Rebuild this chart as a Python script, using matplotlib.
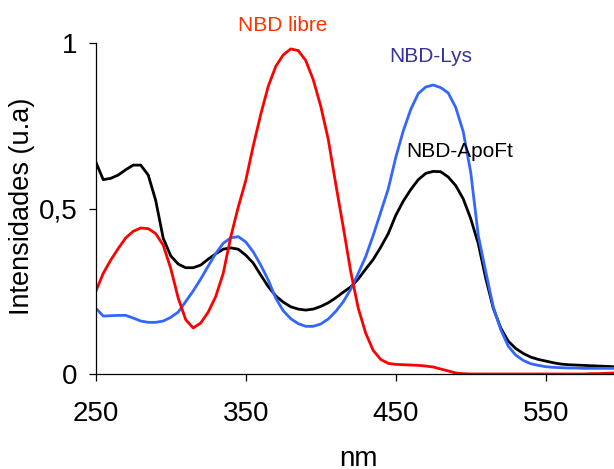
import matplotlib
matplotlib.use("Agg")
import matplotlib.pyplot as plt
from matplotlib.ticker import FuncFormatter

# Wavelength grid (nm)
nm = [250, 255, 260, 265, 270, 275, 280, 285, 290, 295, 300, 305, 310, 315, 320,
      325, 330, 335, 340, 345, 350, 355, 360, 365, 370, 375, 380, 385, 390, 395,
      400, 405, 410, 415, 420, 425, 430, 435, 440, 445, 450, 455, 460, 465, 470,
      475, 480, 485, 490, 495, 500, 505, 510, 515, 520, 525, 530, 535, 540, 545,
      550, 555, 560, 565, 570, 575, 580, 585, 590, 595]

# Intensities (u.a)
nbd_libre = [0.250, 0.305, 0.345, 0.380, 0.412, 0.432, 0.442, 0.440, 0.425, 0.390,
             0.320, 0.230, 0.165, 0.140, 0.155, 0.188, 0.235, 0.305, 0.415, 0.505,
             0.585, 0.690, 0.785, 0.870, 0.930, 0.965, 0.983, 0.978, 0.948, 0.890,
             0.810, 0.710, 0.575, 0.445, 0.310, 0.200, 0.124, 0.072, 0.045, 0.033,
             0.030, 0.029, 0.028, 0.027, 0.025, 0.022, 0.016, 0.010, 0.004, 0.002,
             0.001, 0.001, 0.001, 0.001, 0.001, 0.001, 0.001, 0.001, 0.001, 0.001,
             0.001, 0.001, 0.001, 0.001, 0.001, 0.001, 0.002, 0.002, 0.003, 0.004]

nbd_lys = [0.200, 0.176, 0.177, 0.178, 0.178, 0.170, 0.161, 0.157, 0.157, 0.161,
           0.172, 0.188, 0.220, 0.252, 0.288, 0.327, 0.365, 0.396, 0.412, 0.416,
           0.400, 0.370, 0.330, 0.285, 0.230, 0.192, 0.168, 0.153, 0.145, 0.145,
           0.152, 0.167, 0.190, 0.219, 0.257, 0.305, 0.356, 0.420, 0.490, 0.560,
           0.655, 0.735, 0.800, 0.848, 0.868, 0.874, 0.866, 0.850, 0.806, 0.733,
           0.610, 0.420, 0.310, 0.204, 0.135, 0.085, 0.058, 0.042, 0.032, 0.027,
           0.023, 0.021, 0.020, 0.019, 0.019, 0.018, 0.018, 0.018, 0.018, 0.018]

nbd_apoft = [0.642, 0.588, 0.592, 0.602, 0.618, 0.632, 0.632, 0.602, 0.525, 0.411,
             0.358, 0.333, 0.322, 0.322, 0.330, 0.348, 0.364, 0.378, 0.382, 0.378,
             0.360, 0.336, 0.300, 0.265, 0.237, 0.218, 0.204, 0.197, 0.194, 0.197,
             0.205, 0.216, 0.231, 0.248, 0.264, 0.288, 0.318, 0.347, 0.384, 0.425,
             0.480, 0.523, 0.558, 0.588, 0.607, 0.613, 0.612, 0.596, 0.570, 0.530,
             0.470, 0.395, 0.290, 0.200, 0.140, 0.100, 0.078, 0.063, 0.052, 0.045,
             0.040, 0.035, 0.031, 0.029, 0.028, 0.027, 0.026, 0.025, 0.024, 0.023]

x_ticks = [250, 350, 450, 550]
y_ticks = [0, 0.5, 1]

narrow = ["Liberation Sans Narrow", "Liberation Sans", "DejaVu Sans"]
regular = ["Liberation Sans", "DejaVu Sans"]

fig = plt.figure(figsize=(6.14, 4.69), dpi=100)
ax = fig.add_axes([0.1559, 0.2019, 0.8441, 0.7058])

ax.plot(nm, nbd_apoft, color="#000000", lw=2.0)
ax.plot(nm, nbd_lys, color="#3366ff", lw=2.0)
ax.plot(nm, nbd_libre, color="#ff0000", lw=2.0)

ax.set_xlim(250, 595.5)
ax.set_ylim(0, 1)
ax.set_xticks(x_ticks)
ax.set_yticks(y_ticks)
ax.yaxis.set_major_formatter(FuncFormatter(lambda v, p: f"{v:g}".replace(".", ",")))

for s in ("top", "right"):
    ax.spines[s].set_visible(False)
for s in ("left", "bottom"):
    ax.spines[s].set_linewidth(0.9)

ax.tick_params(axis="both", direction="out", length=5.3, width=0.9)
ax.tick_params(axis="x", pad=14)
ax.tick_params(axis="y", pad=8)
for lab in ax.get_xticklabels() + ax.get_yticklabels():
    lab.set_fontfamily(narrow)
    lab.set_fontsize(20)

# Axis titles
fig.text(22 / 614, 1 - 206.5 / 469, "Intensidades (u.a)", rotation=90,
         ha="center", va="center", fontsize=19.5, family=regular)
fig.text(358 / 614, 3 / 469, "nm", ha="center", va="baseline",
         fontsize=20, family=narrow)

# Curve labels
ax.text(345.1, 1.037, "NBD libre", color="#ff3300", fontsize=15,
        family=regular, ha="left", va="baseline", clip_on=False)
ax.text(445.7, 0.943, "NBD-Lys", color="#333399", fontsize=15,
        family=regular, ha="left", va="baseline", clip_on=False)
ax.text(457.3, 0.657, "NBD-ApoFt", color="#000000", fontsize=15,
        family=regular, ha="left", va="baseline", clip_on=False)

fig.savefig("out.png", dpi=100)
